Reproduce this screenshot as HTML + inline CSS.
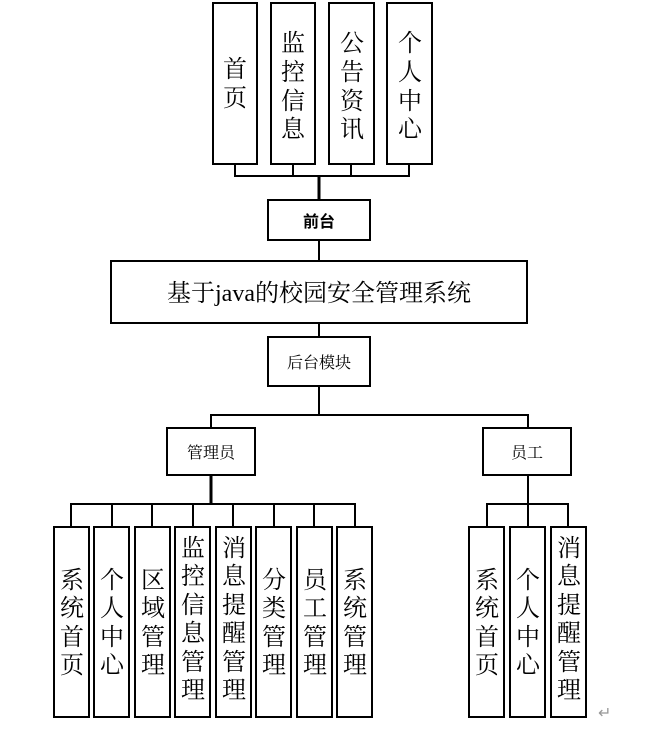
<!DOCTYPE html>
<html><head><meta charset="utf-8"><style>
html,body{margin:0;padding:0;background:#fff;}
svg text{font-family:"Liberation Serif","Noto Serif CJK SC","Noto Sans CJK SC",serif;fill:#000;}
</style></head><body>
<svg width="665" height="734" xmlns="http://www.w3.org/2000/svg">
<g fill="none" stroke="#000" stroke-width="2">
<!-- top boxes -->
<rect x="213" y="3" width="44" height="161"/>
<rect x="271" y="3" width="44" height="161"/>
<rect x="329" y="3" width="45" height="161"/>
<rect x="387" y="3" width="45" height="161"/>
<polyline points="235,164 235,176 409,176 409,164"/>
<line x1="293" y1="164" x2="293" y2="176"/>
<line x1="351" y1="164" x2="351" y2="176"/>
<line x1="319" y1="176" x2="319" y2="200" stroke-width="3"/>
<rect x="268" y="200" width="102" height="40"/>
<line x1="319" y1="240" x2="319" y2="261"/>
<rect x="111" y="261" width="416" height="62"/>
<line x1="319" y1="323" x2="319" y2="337"/>
<rect x="268" y="337" width="102" height="49"/>
<line x1="319" y1="386" x2="319" y2="415"/>
<polyline points="211,428 211,415 528,415 528,428"/>
<rect x="167" y="428" width="88" height="47"/>
<rect x="483" y="428" width="88" height="47"/>
<line x1="211" y1="475" x2="211" y2="504" stroke-width="3"/>
<polyline points="71,527 71,504 355,504 355,527"/>
<line x1="112" y1="504" x2="112" y2="527"/>
<line x1="152" y1="504" x2="152" y2="527"/>
<line x1="193" y1="504" x2="193" y2="527"/>
<line x1="233" y1="504" x2="233" y2="527"/>
<line x1="274" y1="504" x2="274" y2="527"/>
<line x1="314" y1="504" x2="314" y2="527"/>
<rect x="54" y="527" width="35" height="190"/>
<rect x="94" y="527" width="35" height="190"/>
<rect x="135" y="527" width="35" height="190"/>
<rect x="175" y="527" width="35" height="190"/>
<rect x="216" y="527" width="35" height="190"/>
<rect x="256" y="527" width="35" height="190"/>
<rect x="297" y="527" width="35" height="190"/>
<rect x="337" y="527" width="35" height="190"/>
<line x1="528" y1="475" x2="528" y2="504"/>
<polyline points="487,527 487,504 568,504 568,527"/>
<line x1="528" y1="504" x2="528" y2="527"/>
<rect x="469" y="527" width="35" height="190"/>
<rect x="510" y="527" width="35" height="190"/>
<rect x="551" y="527" width="35" height="190"/>
</g>
<g font-size="24" text-anchor="middle">
<text x="235" y="77">首</text><text x="235" y="106">页</text>
<text x="293" y="51">监</text><text x="293" y="80">控</text><text x="293" y="109">信</text><text x="293" y="137">息</text>
<text x="352" y="51">公</text><text x="352" y="80">告</text><text x="352" y="109">资</text><text x="352" y="137">讯</text>
<text x="410" y="51">个</text><text x="410" y="80">人</text><text x="410" y="109">中</text><text x="410" y="137">心</text>
</g>
<text x="319" y="227" font-size="16" font-weight="bold" text-anchor="middle" style="font-family:'Liberation Sans','Noto Sans CJK SC',sans-serif">前台</text>
<text x="319" y="301" font-size="24" text-anchor="middle">基于java的校园安全管理系统</text>
<text x="319" y="368" font-size="16" text-anchor="middle">后台模块</text>
<text x="211" y="458" font-size="16" text-anchor="middle">管理员</text>
<text x="527" y="458" font-size="16" text-anchor="middle">员工</text>
<g font-size="24" text-anchor="middle">
<text x="72" y="588">系</text><text x="72" y="616">统</text><text x="72" y="645">首</text><text x="72" y="673">页</text>
<text x="112" y="588">个</text><text x="112" y="616">人</text><text x="112" y="645">中</text><text x="112" y="673">心</text>
<text x="153" y="588">区</text><text x="153" y="616">域</text><text x="153" y="645">管</text><text x="153" y="673">理</text>
<text x="193" y="556">监</text><text x="193" y="584">控</text><text x="193" y="613">信</text><text x="193" y="641">息</text><text x="193" y="670">管</text><text x="193" y="698">理</text>
<text x="234" y="556">消</text><text x="234" y="584">息</text><text x="234" y="613">提</text><text x="234" y="641">醒</text><text x="234" y="670">管</text><text x="234" y="698">理</text>
<text x="274" y="588">分</text><text x="274" y="616">类</text><text x="274" y="645">管</text><text x="274" y="673">理</text>
<text x="315" y="588">员</text><text x="315" y="616">工</text><text x="315" y="645">管</text><text x="315" y="673">理</text>
<text x="355" y="588">系</text><text x="355" y="616">统</text><text x="355" y="645">管</text><text x="355" y="673">理</text>
<text x="487" y="588">系</text><text x="487" y="616">统</text><text x="487" y="645">首</text><text x="487" y="673">页</text>
<text x="528" y="588">个</text><text x="528" y="616">人</text><text x="528" y="645">中</text><text x="528" y="673">心</text>
<text x="569" y="556">消</text><text x="569" y="584">息</text><text x="569" y="613">提</text><text x="569" y="641">醒</text><text x="569" y="670">管</text><text x="569" y="698">理</text>
</g>
<text x="598" y="718" font-size="16" fill="#999" style="fill:#999">↵</text>
</svg>
</body></html>
